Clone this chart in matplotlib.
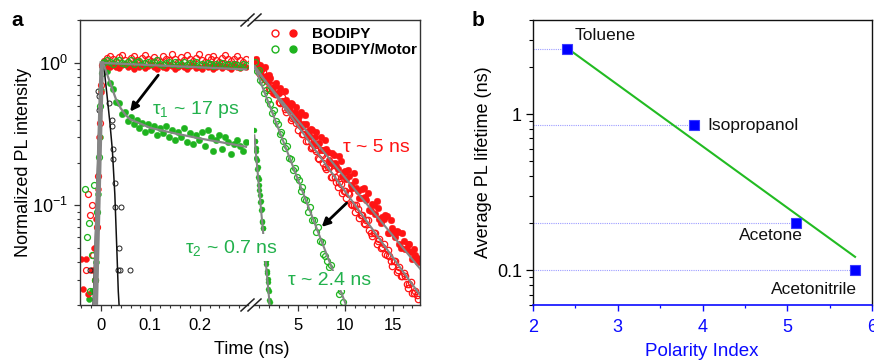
import numpy as np
import matplotlib
matplotlib.use('Agg')
import matplotlib.pyplot as plt
from matplotlib.ticker import MultipleLocator, LogLocator, NullFormatter, FixedLocator, FixedFormatter
from matplotlib.lines import Line2D
from matplotlib.legend_handler import HandlerTuple

plt.rcParams['font.family'] = ['Liberation Sans', 'DejaVu Sans']
plt.rcParams['mathtext.fontset'] = 'custom'
plt.rcParams['mathtext.rm'] = 'Liberation Sans'
plt.rcParams['mathtext.it'] = 'Liberation Sans:italic'
plt.rcParams['mathtext.bf'] = 'Liberation Sans:bold'

# ---------------- panel a : short time window (ns) ----------------
t_short = [0.006, 0.012, 0.018, 0.024, 0.030, 0.036, 0.042, 0.048, 0.054, 0.060,
           0.066, 0.072, 0.078, 0.084, 0.090, 0.096, 0.102, 0.108, 0.114, 0.120,
           0.126, 0.132, 0.138, 0.144, 0.150, 0.156, 0.162, 0.168, 0.174, 0.180,
           0.186, 0.192, 0.198, 0.204, 0.210, 0.216, 0.222, 0.228, 0.234, 0.240,
           0.246, 0.252, 0.258, 0.264, 0.270, 0.276, 0.282, 0.288, 0.294]
bodipy_open_short = [1.03, 1.09, 1.12, 1.06, 1.02, 1.10, 1.14, 1.05, 1.01, 1.08,
                     1.11, 1.04, 1.00, 1.09, 1.13, 1.06, 1.03, 1.10, 1.05, 1.01,
                     1.12, 1.07, 1.04, 1.16, 1.06, 1.02, 1.10, 1.05, 1.13, 1.07,
                     1.03, 1.09, 1.15, 1.05, 1.01, 1.10, 1.06, 1.12, 1.04, 1.02,
                     1.09, 1.14, 1.06, 1.03, 1.07, 1.11, 1.04, 1.01, 1.06]
bodipy_fill_short = [0.98, 0.95, 0.93, 0.97, 0.94, 0.92, 0.96, 0.99, 0.93, 0.95,
                     0.91, 0.96, 0.94, 0.97, 0.92, 0.95, 0.98, 0.93, 0.90, 0.96,
                     0.94, 0.92, 0.97, 0.95, 0.91, 0.94, 0.96, 0.93, 0.90, 0.95,
                     0.97, 0.92, 0.94, 0.91, 0.96, 0.93, 0.95, 0.90, 0.94, 0.97,
                     0.92, 0.95, 0.93, 0.91, 0.96, 0.94, 0.92, 0.95, 0.93]
motor_open_short = [1.02, 1.04, 1.01, 0.99, 1.03, 1.05, 1.00, 0.98, 1.02, 1.04,
                    0.99, 1.01, 1.03, 0.97, 1.00, 1.02, 0.98, 1.01, 1.04, 0.99,
                    0.96, 1.00, 1.02, 0.98, 1.01, 0.97, 0.99, 1.02, 0.96, 1.00,
                    0.98, 1.01, 0.97, 0.99, 0.96, 1.00, 0.98, 0.95, 0.99, 0.97,
                    1.00, 0.96, 0.98, 0.95, 0.99, 0.97, 0.94, 0.98, 0.96]
motor_fill_short = [0.98, 0.88, 0.72, 0.66, 0.53, 0.52, 0.44, 0.45, 0.39, 0.42,
                    0.37, 0.40, 0.35, 0.38, 0.33, 0.37, 0.34, 0.36, 0.31, 0.35,
                    0.32, 0.36, 0.30, 0.34, 0.29, 0.33, 0.30, 0.35, 0.28, 0.32,
                    0.27, 0.31, 0.29, 0.33, 0.26, 0.34, 0.30, 0.24, 0.29, 0.31,
                    0.25, 0.30, 0.28, 0.23, 0.27, 0.29, 0.26, 0.24, 0.28]

# rise region (before / at time zero)
bodipy_open_rise_t = [-0.030, -0.026, -0.022, -0.019, -0.016, -0.012, -0.009, -0.006, -0.003, 0.000, 0.003]
bodipy_open_rise_y = [0.035, 0.12, 0.085, 0.10, 0.045, 0.03, 0.07, 0.16, 0.38, 0.70, 0.97]
bodipy_fill_rise_t = [-0.040, -0.036, -0.030, -0.026, -0.018, -0.014, -0.010, -0.007, -0.004, -0.001, 0.002]
bodipy_fill_rise_y = [0.042, 0.026, 0.042, 0.024, 0.035, 0.05, 0.08, 0.13, 0.30, 0.62, 0.95]
motor_open_rise_t = [-0.033, -0.028, -0.025, -0.022, -0.018, -0.015, -0.012, -0.008, -0.005, -0.002, 0.001, 0.004]
motor_open_rise_y = [0.13, 0.06, 0.075, 0.025, 0.045, 0.14, 0.03, 0.09, 0.22, 0.50, 0.85, 1.0]
motor_fill_rise_t = [-0.025, -0.018, -0.013, -0.010, -0.008, -0.006, -0.003, 0.000, 0.003]
motor_fill_rise_y = [0.022, 0.025, 0.03, 0.04, 0.07, 0.12, 0.30, 0.65, 0.95]

# instrument response (black)
irf_t = [-0.006, -0.004, -0.005, 0.017, 0.022, 0.022, 0.024, 0.025, 0.028, 0.029, 0.041, 0.036, 0.035, 0.039, 0.059, -0.022]
irf_y = [0.64, 0.59, 0.47, 0.52, 0.40, 0.36, 0.25, 0.21, 0.144, 0.098, 0.098, 0.05, 0.035, 0.035, 0.035, 0.035]
irf_fit_t = [-0.016, -0.010, -0.005, 0.000, 0.005, 0.012, 0.018, 0.023, 0.028, 0.032, 0.035, 0.037]
irf_fit_y = [0.02, 0.08, 0.30, 0.75, 1.0, 0.60, 0.38, 0.245, 0.12, 0.05, 0.025, 0.019]

# fits, short window
fit_flat_t = [0.002, 0.294]
fit_flat_y = [1.0, 0.90]
fit_motor_short_t = [0.004, 0.012, 0.02, 0.03, 0.04, 0.05, 0.06, 0.08, 0.1, 0.15, 0.2, 0.25, 0.294]
fit_motor_short_y = [1.0, 0.84, 0.70, 0.56, 0.48, 0.43, 0.40, 0.375, 0.35, 0.32, 0.295, 0.275, 0.258]
fit_rise1_t = [-0.014, 0.0]
fit_rise1_y = [0.02, 1.0]
fit_rise2_t = [-0.009, 0.003]
fit_rise2_y = [0.02, 1.0]

# ---------------- panel a : long time window (ns) ----------------
t_long = [0.5, 0.8, 1.1, 1.4, 1.7, 2.0, 2.3, 2.6, 2.9, 3.2, 3.5, 3.8, 4.1, 4.4, 4.7,
          5.0, 5.3, 5.6, 5.9, 6.2, 6.5, 6.8, 7.1, 7.4, 7.7, 8.0, 8.3, 8.6, 8.9, 9.2,
          9.5, 9.8, 10.1, 10.4, 10.7, 11.0, 11.3, 11.6, 11.9, 12.2, 12.5, 12.8, 13.1,
          13.4, 13.7, 14.0, 14.3, 14.6, 14.9, 15.2, 15.5, 15.8, 16.1, 16.4, 16.7, 17.0,
          17.3, 17.6]
bodipy_fill_long = [1.03, 0.916, 0.962, 0.799, 0.810, 0.824, 0.665, 0.701, 0.617, 0.666,
                    0.540, 0.551, 0.465, 0.514, 0.450, 0.400, 0.449, 0.371, 0.375, 0.307,
                    0.340, 0.304, 0.270, 0.302, 0.245, 0.248, 0.207, 0.234, 0.199, 0.179,
                    0.205, 0.172, 0.153, 0.162, 0.133, 0.149, 0.126, 0.113, 0.132, 0.109,
                    0.0925, 0.103, 0.0877, 0.0963, 0.0751, 0.0797, 0.0845, 0.0644, 0.0696,
                    0.0604, 0.0654, 0.0506, 0.0563, 0.0494, 0.0540, 0.0419, 0.0450, 0.0403]
bodipy_open_long = [0.98, 0.973, 0.831, 0.868, 0.758, 0.667, 0.704, 0.608, 0.634, 0.527,
                    0.523, 0.451, 0.480, 0.412, 0.405, 0.339, 0.361, 0.319, 0.283, 0.305,
                    0.256, 0.249, 0.215, 0.229, 0.198, 0.180, 0.189, 0.158, 0.158, 0.135,
                    0.142, 0.126, 0.112, 0.120, 0.101, 0.0893, 0.0945, 0.0850, 0.0755, 0.0789,
                    0.0675, 0.0605, 0.0639, 0.0564, 0.0501, 0.0534, 0.0447, 0.0445, 0.0375,
                    0.0405, 0.0350, 0.0317, 0.0338, 0.0283, 0.0281, 0.0241, 0.0251, 0.0222]
# interleaved samples (half-step later)
t_long_b = [0.65, 0.95, 1.25, 1.55, 1.85, 2.15, 2.45, 2.75, 3.05, 3.35, 3.65, 3.95, 4.25,
            4.55, 4.85, 5.15, 5.45, 5.75, 6.05, 6.35, 6.65, 6.95, 7.25, 7.55, 7.85, 8.15,
            8.45, 8.75, 9.05, 9.35, 9.65, 9.95, 10.25, 10.55, 10.85, 11.15, 11.45, 11.75,
            12.05, 12.35, 12.65, 12.95, 13.25, 13.55, 13.85, 14.15, 14.45, 14.75, 15.05,
            15.35, 15.65, 15.95, 16.25, 16.55, 16.85, 17.15, 17.45]
bodipy_fill_long_b = [1.069, 0.844, 0.900, 0.940, 0.733, 0.779, 0.618, 0.727, 0.618, 0.543,
                      0.633, 0.505, 0.525, 0.417, 0.490, 0.421, 0.359, 0.430, 0.334, 0.344,
                      0.275, 0.330, 0.273, 0.245, 0.289, 0.238, 0.199, 0.226, 0.190, 0.221,
                      0.162, 0.174, 0.177, 0.139, 0.170, 0.132, 0.113, 0.130, 0.114, 0.122,
                      0.0918, 0.100, 0.108, 0.0805, 0.0829, 0.0854, 0.0643, 0.0787, 0.0646,
                      0.0656, 0.0532, 0.0645, 0.0498, 0.0535, 0.0469, 0.0492, 0.0430]
bodipy_open_long_b = [1.016, 0.860, 0.914, 0.768, 0.756, 0.645, 0.687, 0.606, 0.534, 0.579,
                      0.476, 0.478, 0.399, 0.434, 0.376, 0.370, 0.316, 0.342, 0.282, 0.254,
                      0.270, 0.241, 0.210, 0.226, 0.187, 0.187, 0.157, 0.174, 0.147, 0.147,
                      0.123, 0.127, 0.123, 0.102, 0.101, 0.101, 0.0817, 0.0855, 0.0746, 0.0792,
                      0.0639, 0.0643, 0.0536, 0.0584, 0.0511, 0.0454, 0.0487, 0.0405, 0.0407,
                      0.0339, 0.0369, 0.0317, 0.0318, 0.0262, 0.0288, 0.0241, 0.0236]
t_motor_open_long = [0.5, 0.7, 0.9, 1.1, 1.3, 1.5, 1.7, 1.9, 2.1, 2.3, 2.5, 2.7, 2.9, 3.1,
                     3.3, 3.5, 3.7, 3.9, 4.1, 4.3, 4.5, 4.7, 4.9, 5.1, 5.3, 5.5, 5.7, 5.9,
                     6.1, 6.3, 6.5, 6.7, 6.9, 7.1, 7.3, 7.5, 7.7, 7.9,
                     8.1, 8.3, 8.5, 8.7, 8.9, 9.1, 9.3, 9.5, 9.7]
motor_open_long = [1.02, 0.883, 0.888, 0.756, 0.739, 0.619, 0.643, 0.547, 0.518, 0.448,
                   0.465, 0.388, 0.375, 0.315, 0.327, 0.284, 0.251, 0.262, 0.216, 0.211,
                   0.178, 0.184, 0.157, 0.150, 0.126, 0.134, 0.110, 0.109, 0.0892, 0.0973,
                   0.0796, 0.0793, 0.0653, 0.0703, 0.0559, 0.0557, 0.0453, 0.0440,
                   0.041, 0.037, 0.038, 0.031, 0.029, 0.027, 0.024, 0.025, 0.021]
t_motor_fill_long = [0.46, 0.50, 0.55, 0.59, 0.64, 0.68, 0.73, 0.77, 0.82, 0.86, 0.91, 0.95,
                     1.00, 1.04, 1.09, 1.13, 1.18, 1.22, 1.27, 1.31, 1.36, 1.40, 1.45, 1.49,
                     1.54, 1.58, 1.63, 1.67, 1.72, 1.76, 1.81, 1.85, 1.90, 1.94, 1.99, 2.03, 2.08]
motor_fill_long = [0.336, 0.285, 0.281, 0.240, 0.253, 0.215, 0.209, 0.179, 0.186, 0.157,
                   0.152, 0.129, 0.139, 0.119, 0.105, 0.107, 0.0924, 0.0936, 0.0770, 0.0774,
                   0.0690, 0.0698, 0.0575, 0.0578, 0.0499, 0.0506, 0.0443, 0.0385, 0.0407,
                   0.0345, 0.0337, 0.0291, 0.0306, 0.0258, 0.0251, 0.0217, 0.0211]
fit_bodipy_open_t = [0.5, 17.8]
fit_bodipy_open_y = [0.95, 0.0235]
fit_bodipy_fill_t = [0.5, 17.8]
fit_bodipy_fill_y = [0.92, 0.036]
fit_motor_open_t = [0.5, 10.0]
fit_motor_open_y = [0.94, 0.0205]
fit_motor_fill_t = [0.46, 2.1]
fit_motor_fill_y = [0.31, 0.019]

# ---------------- panel b ----------------
solvents = ['Toluene', 'Isopropanol', 'Acetone', 'Acetonitrile']
polarity = [2.4, 3.9, 5.1, 5.8]
lifetime = [2.6, 0.85, 0.20, 0.10]
fit_b_x = [2.4, 5.8]
fit_b_y = [2.65, 0.122]

# ---------------- styling ----------------
RED = '#ff1414'
GREEN = '#1eb31e'
GTXT = '#22b14c'
GRAY = '#858585'
BLUE = '#0a0aff'
FRAME = '#333333'

W, H = 874, 360
fig = plt.figure(figsize=(W / 100, H / 100), dpi=100)


def rect(x0, y0, x1, y1):
    return [x0 / W, 1 - y1 / H, (x1 - x0) / W, (y1 - y0) / H]


axL = fig.add_axes(rect(80, 20, 247.5, 305))
axR = fig.add_axes(rect(254.5, 20, 420, 305))
axB = fig.add_axes(rect(533, 20, 872, 305))
for ax in (axL, axR):
    ax.set_facecolor('none')

MS = 4.3
MEW = 0.9


def open_pts(ax, x, y, c, z, ms=MS):
    return ax.plot(x, y, 'o', ms=ms, mfc='none', mec=c, mew=MEW, zorder=z, ls='none')[0]


def fill_pts(ax, x, y, c, z, ms=MS):
    return ax.plot(x, y, 'o', ms=ms, mfc=c, mec=c, mew=0.3, zorder=z, ls='none')[0]


# short window
fill_pts(axL, t_short, motor_fill_short, GREEN, 2.0, ms=4.6)
fill_pts(axL, motor_fill_rise_t, motor_fill_rise_y, GREEN, 2.0)
fill_pts(axL, t_short, bodipy_fill_short, RED, 2.1)
fill_pts(axL, bodipy_fill_rise_t, bodipy_fill_rise_y, RED, 2.1)
open_pts(axL, t_short, bodipy_open_short, RED, 2.2)
open_pts(axL, bodipy_open_rise_t, bodipy_open_rise_y, RED, 2.2)
open_pts(axL, t_short, motor_open_short, GREEN, 2.3)
open_pts(axL, motor_open_rise_t, motor_open_rise_y, GREEN, 2.3)
axL.plot(irf_t, irf_y, 'o', ms=3.6, mfc='none', mec='#222222', mew=0.7, zorder=3)
axL.plot(irf_fit_t, irf_fit_y, '-', color='#111111', lw=1.1, zorder=3.5)
axL.plot(fit_rise1_t, fit_rise1_y, '-', color=GRAY, lw=2.2, zorder=4)
axL.plot(fit_rise2_t, fit_rise2_y, '-', color=GRAY, lw=2.2, zorder=4)
axL.plot(fit_flat_t, fit_flat_y, '-', color=GRAY, lw=1.6, zorder=4)
axL.plot(fit_motor_short_t, fit_motor_short_y, '-', color=GRAY, lw=1.6, zorder=4)

# long window
fill_pts(axR, t_long, bodipy_fill_long, RED, 2.0, ms=4.8)
fill_pts(axR, t_long_b, bodipy_fill_long_b, RED, 2.0, ms=4.8)
open_pts(axR, t_long, bodipy_open_long, RED, 2.1, ms=4.6)
open_pts(axR, t_long_b, bodipy_open_long_b, RED, 2.1, ms=4.6)
open_pts(axR, t_motor_open_long, motor_open_long, GREEN, 2.2)
fill_pts(axR, t_motor_fill_long, motor_fill_long, GREEN, 2.3, ms=3.6)
for fx, fy in ((fit_bodipy_open_t, fit_bodipy_open_y), (fit_bodipy_fill_t, fit_bodipy_fill_y),
               (fit_motor_open_t, fit_motor_open_y), (fit_motor_fill_t, fit_motor_fill_y)):
    axR.plot(fx, fy, '-', color=GRAY, lw=1.5, zorder=4)

for ax in (axL, axR):
    ax.set_yscale('log')
    ax.set_ylim(0.02, 2.0)
    for s in ax.spines.values():
        s.set_color(FRAME)
        s.set_linewidth(1.0)
    ax.tick_params(which='major', direction='out', length=4.5, width=0.9, color=FRAME,
                   labelsize=12, pad=5)
    ax.tick_params(which='minor', direction='out', length=2.5, width=0.8, color=FRAME)

axL.spines['right'].set_visible(False)
axR.spines['left'].set_visible(False)
axL.set_xlim(-0.0426, 0.297)
axL.xaxis.set_major_locator(FixedLocator([0, 0.1, 0.2]))
axL.xaxis.set_major_formatter(FixedFormatter(['0', '0.1', '0.2']))
axL.xaxis.set_minor_locator(MultipleLocator(0.02))
axL.yaxis.set_major_locator(LogLocator(base=10, numticks=10))
axL.yaxis.set_minor_locator(LogLocator(base=10, subs=np.arange(2, 10), numticks=20))
axL.yaxis.set_minor_formatter(NullFormatter())
axL.tick_params(axis='y', which='major', labelsize=13, pad=4)

axR.set_xlim(0.48, 17.8)
axR.xaxis.set_major_locator(FixedLocator([5, 10, 15]))
axR.xaxis.set_minor_locator(MultipleLocator(1))
axR.tick_params(axis='y', which='both', left=False, right=False, labelleft=False, labelright=False)

# break marks
def frac(px, py):
    return (px / W, 1 - py / H)

for yb in (20, 305):
    for xc in (247.5, 254.5):
        (x0, y0), (x1, y1) = frac(xc - 6.5, yb + 6), frac(xc + 6.5, yb - 6)
        fig.add_artist(Line2D([x0, x1], [y0, y1], color='#222222', lw=1.1))

# annotations panel a
axL.text(0.1034, 0.474, r'τ$_1$ ~ 17 ps', color=GTXT, fontsize=14, ha='left', va='center', zorder=10)
axL.annotate('', xy=(0.059, 0.455), xytext=(0.116, 0.82),
             arrowprops=dict(arrowstyle='-|>', color='k', lw=2.0, mutation_scale=12,
                             shrinkA=0, shrinkB=0), zorder=10)
axR.text(9.74, 0.253, 'τ ~ 5 ns', color=RED, fontsize=14, ha='left', va='center', zorder=10)
axR.text(-6.79, 0.0506, r'τ$_2$ ~ 0.7 ns', color=GTXT, fontsize=14, ha='left', va='center',
         zorder=10, clip_on=False,
         bbox=dict(facecolor='white', edgecolor='none', pad=2.5))
axR.text(3.99, 0.0297, 'τ ~ 2.4 ns', color=GTXT, fontsize=14, ha='left', va='center',
         zorder=10, bbox=dict(facecolor='white', edgecolor='none', pad=1.0))
axR.annotate('', xy=(7.51, 0.0706), xytext=(10.13, 0.104),
             arrowprops=dict(arrowstyle='-|>', color='k', lw=2.0, mutation_scale=12,
                             shrinkA=0, shrinkB=0), zorder=10)

# legend
h1 = (Line2D([], [], ls='none', marker='o', ms=5, mfc='none', mec=RED, mew=1.0),
      Line2D([], [], ls='none', marker='o', ms=5, mfc=RED, mec=RED))
h2 = (Line2D([], [], ls='none', marker='o', ms=5, mfc='none', mec=GREEN, mew=1.0),
      Line2D([], [], ls='none', marker='o', ms=5, mfc=GREEN, mec=GREEN))
fig.legend([h1, h2], ['BODIPY', 'BODIPY/Motor'],
           handler_map={tuple: HandlerTuple(ndivide=None, pad=0.785)},
           loc='upper left', bbox_to_anchor=(272 / W, 1 - 27 / H), bbox_transform=fig.transFigure,
           frameon=False, borderpad=0, borderaxespad=0, handlelength=1.57, handletextpad=1.05,
           labelspacing=0.15, numpoints=1, prop=dict(weight='bold', size=11))

fig.text(252 / W, 1 - 350 / H, 'Time (ns)', fontsize=13, ha='center', va='center')
fig.text(24 / W, 1 - 162 / H, 'Normalized PL intensity', fontsize=13, ha='center', va='center',
         rotation=90)
fig.text(17 / W, 1 - 21 / H, 'a', fontsize=15, weight='bold', ha='center', va='center')
fig.text(478 / W, 1 - 21 / H, 'b', fontsize=15, weight='bold', ha='center', va='center')

# ---------------- panel b ----------------
axB.set_yscale('log')
axB.set_xlim(2, 6)
axB.set_ylim(0.06, 4)
axB.hlines(lifetime, 2, polarity, colors='#9c9cff', linestyles=(0, (1, 1)), lw=0.8, zorder=1)
axB.plot(fit_b_x, fit_b_y, '-', color='#22bb22', lw=1.5, zorder=2)
axB.plot(polarity, lifetime, 's', ms=7.5, mfc='#0000ff', mec='#3b3bff', mew=0.8, zorder=3, clip_on=False)
label_offsets_px = [(8, 14, 'left'), (13, 0, 'left'), (-25, -12, 'center'), (-41, -19, 'center')]
for name, x, y, (dx, dy, ha) in zip(solvents, polarity, lifetime, label_offsets_px):
    axB.annotate(name, (x, y), xytext=(dx * 0.72, dy * 0.72), textcoords='offset points',
                 ha=ha, va='center', fontsize=12.5, color='#111111')
axB.xaxis.set_major_locator(FixedLocator([2, 3, 4, 5, 6]))
axB.xaxis.set_minor_locator(MultipleLocator(0.5))
axB.yaxis.set_major_locator(FixedLocator([0.1, 1]))
axB.yaxis.set_major_formatter(FixedFormatter(['0.1', '1']))
axB.yaxis.set_minor_locator(LogLocator(base=10, subs=np.arange(2, 10), numticks=20))
axB.yaxis.set_minor_formatter(NullFormatter())
for s in axB.spines.values():
    s.set_color('#111111')
    s.set_linewidth(1.0)
axB.spines['bottom'].set_color(BLUE)
axB.spines['bottom'].set_linewidth(1.2)
axB.tick_params(axis='y', which='major', direction='out', length=5, width=0.9, labelsize=13, pad=3)
axB.tick_params(axis='y', which='minor', direction='out', length=3, width=0.8)
axB.tick_params(axis='x', which='major', direction='out', length=4, width=1.0, color=BLUE,
                labelcolor=BLUE, labelsize=13, pad=6)
axB.tick_params(axis='x', which='minor', direction='out', length=2.5, width=0.9, color=BLUE)
fig.text(702 / W, 1 - 351 / H, 'Polarity Index', fontsize=13.5, color=BLUE, ha='center', va='center')
fig.text(484 / W, 1 - 162 / H, 'Average PL lifetime (ns)', fontsize=13, ha='center', va='center',
         rotation=90)

fig.savefig('out.png', dpi=100)
